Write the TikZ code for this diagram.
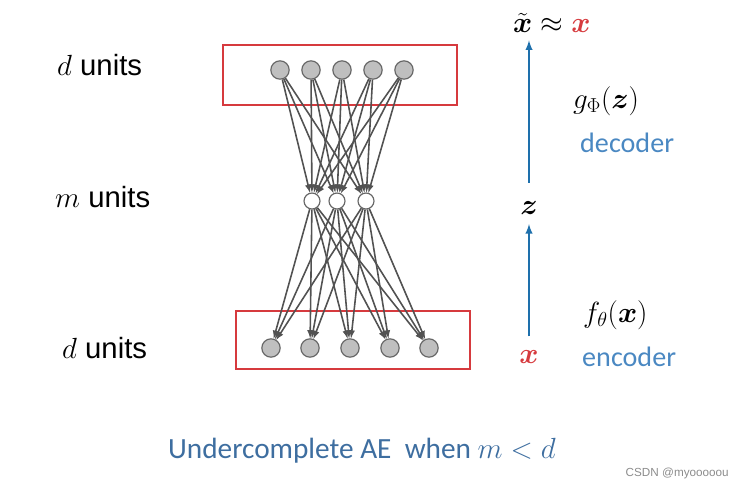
\documentclass[tikz,border=0pt]{standalone}
\usepackage{amsmath,amssymb}
\usepackage{fontspec}
\setmainfont{Liberation Sans}
\newfontfamily\calib{Carlito}
\usetikzlibrary{arrows}

\definecolor{boxred}{RGB}{214,58,62}
\definecolor{flowblue}{RGB}{30,112,172}
\definecolor{txtblue}{RGB}{74,136,194}
\definecolor{capblue}{RGB}{62,110,160}

\tikzset{
    unit/.style={circle, draw=black!60, fill=black!25, line width=1pt, minimum size=0.55cm, inner sep=0pt},
    hid/.style={unit, fill=white, minimum size=0.48cm},
    link/.style={-latex, draw=black!68, line width=1.35pt},
    flow/.style={-latex, draw=flowblue, line width=1.8pt},
    lbl/.style={anchor=west, inner sep=0pt, font=\fontsize{25}{28}\selectfont},
    blu/.style={anchor=west, inner sep=0pt, text=txtblue, font=\calib\fontsize{24}{28}\selectfont},
    mth/.style={inner sep=0pt, font=\fontsize{24}{28}\selectfont}
}

\begin{document}
\begin{tikzpicture}[x=0.03cm, y=-0.03cm]
        \useasboundingbox (0,0) rectangle (743,491);

        % layers
        \node[unit] (t1) at (280,70) {};
        \node[unit] (t2) at (311,70) {};
        \node[unit] (t3) at (342,70) {};
        \node[unit] (t4) at (373,70) {};
        \node[unit] (t5) at (404,70) {};

        \node[hid] (m1) at (312,201) {};
        \node[hid] (m2) at (337,201) {};
        \node[hid] (m3) at (366,201) {};

        \node[unit] (b1) at (271,348) {};
        \node[unit] (b2) at (310,348) {};
        \node[unit] (b3) at (350,348) {};
        \node[unit] (b4) at (390,348) {};
        \node[unit] (b5) at (429,348) {};

        \draw[boxred, line width=1pt] (223,45) rectangle (457,105);
        \draw[boxred, line width=1pt] (236,311) rectangle (470,369);

        \foreach \i in {1,...,5}
            \foreach \j in {1,2,3} {
                \draw[link] (t\i) -- (m\j);
                \draw[link] (m\j) -- (b\i);
            }

        % left labels
        \node[lbl] (dtop) at (57,65) {$d$ units};
        \node[lbl] (mmid) at (55,197) {$m$ units};
        \node[lbl] (dbot) at (62,348) {$d$ units};

        % right side
        \node[mth] (xin) at (529,357) {\color{boxred}$\boldsymbol{x}$};
        \node[mth] (z) at (529,208) {$\boldsymbol{z}$};
        \node[mth, anchor=west] (xt) at (513,23) {$\tilde{\boldsymbol{x}}\approx{\color{boxred}\boldsymbol{x}}$};

        \draw[flow, shorten <=0.42cm, shorten >=0.28cm] (xin) -- (z);
        \draw[flow, shorten <=0.55cm, shorten >=0.22cm] (z) -- (z |- xt.south);

        \node[mth, anchor=west] (gdec) at (573,101) {$g_{\Phi}(\boldsymbol{z})$};
        \node[blu] (dec) at (580,143) {decoder};
        \node[mth, anchor=west] (fenc) at (583,315) {$f_{\theta}(\boldsymbol{x})$};
        \node[blu] (enc) at (582,357) {encoder};

        % caption
        \node[inner sep=0pt, text=capblue, font=\calib\fontsize{25}{28}\selectfont] (cap) at (362,451) {Undercomplete AE\ \ when $m<d$};
        \node[anchor=east, inner sep=0pt, text=black!45, font=\fontsize{10}{12}\selectfont] (mark) at (729,473) {CSDN @myooooou};
\end{tikzpicture}
\end{document}
